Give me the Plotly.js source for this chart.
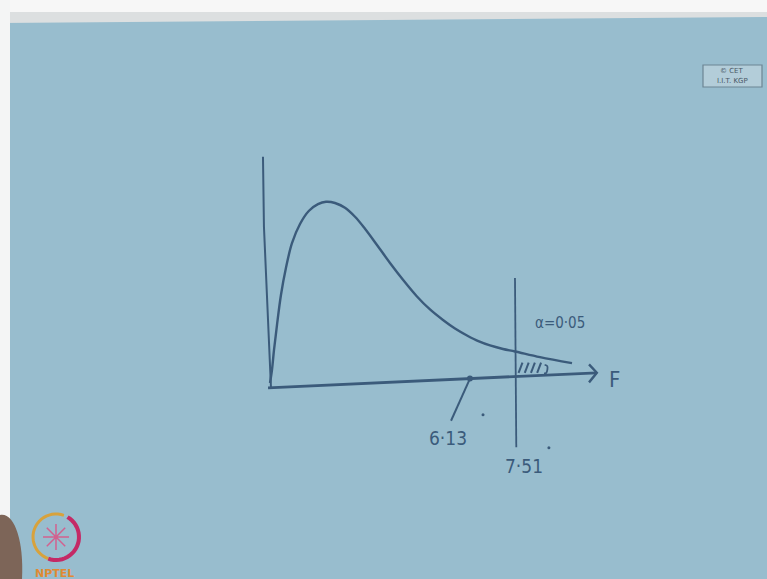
<!DOCTYPE html>
<html>
<head>
<meta charset="utf-8">
<script src="https://cdn.plot.ly/plotly-3.0.1.min.js"></script>
<style>
  html, body { margin: 0; padding: 0; background: #98bdce; }
  #chart { width: 767px; height: 579px; }
</style>
</head>
<body>
<div id="chart"></div>
<script>
// F density sketch: skewed curve, observed F and critical F with the alpha tail.
const curveF       = [0, 0.061, 0.123, 0.215, 0.337, 0.490, 0.674, 0.920, 1.196, 1.471, 1.717, 1.993, 2.299, 2.606, 2.912, 3.280, 3.679, 4.077, 4.506, 4.905, 5.303, 5.671, 6.039, 6.407, 6.744, 7.143, 7.511, 8.277, 9.258];
const curveDensity = [0.000, 0.022, 0.055, 0.097, 0.147, 0.192, 0.233, 0.265, 0.287, 0.298, 0.302, 0.300, 0.292, 0.277, 0.257, 0.230, 0.200, 0.172, 0.1442, 0.1225, 0.105, 0.0908, 0.0792, 0.0692, 0.0625, 0.0567, 0.0525, 0.043, 0.033];

const observedF = 6.13;
const criticalF = 7.51;
const alpha = 0.05;

// hand-drawn axes (slightly tilted)
const yAxisF = [-0.215, -0.185, 0.03];
const yAxisD = [0.377, 0.260, -0.008];
const xAxisF = [-0.06, 10.02];
const xAxisD = [-0.008, 0.017];
const arrowF = [9.78, 10.02, 9.78];
const arrowD = [0.031, 0.017, 0.001];

// hatch strokes in the rejection tail
const hatchF = [7.62, 7.81, 8.00, 8.19];

// stray chalk dots
const dotF = [6.53, 8.55];
const dotD = [-0.053, -0.108];

const ink = '#3b5b7b';
const fmt = v => v.toFixed(2).replace('.', '·');

// baseline height at a given F along the tilted axis
function axisAt(f) {
  return xAxisD[0] + (f - xAxisF[0]) / (xAxisF[1] - xAxisF[0]) * (xAxisD[1] - xAxisD[0]);
}

const traces = [
  { x: yAxisF, y: yAxisD, mode: 'lines', line: { color: ink, width: 2 }, hoverinfo: 'skip' },
  { x: xAxisF, y: xAxisD, mode: 'lines', line: { color: ink, width: 2.8 }, hoverinfo: 'skip' },
  { x: arrowF, y: arrowD, mode: 'lines', line: { color: ink, width: 2.4 }, hoverinfo: 'skip' },
  { x: curveF, y: curveDensity, mode: 'lines', line: { color: ink, width: 2.4, shape: 'spline', smoothing: 1 }, hoverinfo: 'skip' },
  { x: [criticalF, criticalF + 0.04], y: [0.175, -0.107], mode: 'lines', line: { color: ink, width: 1.8 }, hoverinfo: 'skip' },
  { x: [observedF, observedF - 0.58], y: [axisAt(observedF), -0.063], mode: 'lines', line: { color: ink, width: 2 }, hoverinfo: 'skip' },
  { x: [observedF], y: [axisAt(observedF)], mode: 'markers', marker: { color: ink, size: 6 }, hoverinfo: 'skip' },
  { x: dotF, y: dotD, mode: 'markers', marker: { color: ink, size: 3 }, hoverinfo: 'skip' }
];
hatchF.forEach(f => {
  traces.push({ x: [f, f + 0.12], y: [0.017, 0.034], mode: 'lines', line: { color: ink, width: 2 }, hoverinfo: 'skip' });
});
traces.push({ x: [8.42, 8.50, 8.47, 8.40], y: [0.030, 0.028, 0.017, 0.016], mode: 'lines',
  line: { color: ink, width: 1.8, shape: 'spline' }, hoverinfo: 'skip' });

// pixel -> paper helpers for the frame decorations
const W = 767, H = 579;
const P = (x, y) => (x / W).toFixed(4) + ',' + (1 - y / H).toFixed(4);

function ringPath(cx, cy, r, a0, a1) {
  let d = '';
  const n = 24;
  for (let i = 0; i <= n; i++) {
    const a = (a0 + (a1 - a0) * i / n) * Math.PI / 180;
    d += (i === 0 ? 'M' : 'L') + P(cx + r * Math.cos(a), cy + r * Math.sin(a));
  }
  return d;
}
let spokes = '';
for (let k = 0; k < 8; k++) {
  const a = k * Math.PI / 4;
  spokes += 'M' + P(56, 537) + 'L' + P(56 + 13 * Math.cos(a), 537 + 13 * Math.sin(a));
}

const shapes = [
  { type: 'rect', xref: 'paper', yref: 'paper', x0: 0, x1: 1, y0: 1 - 12 / H, y1: 1, fillcolor: '#f7f7f7', line: { width: 0 } },
  { type: 'path', xref: 'paper', yref: 'paper', path: 'M' + P(0, 12) + 'L' + P(767, 12) + 'L' + P(767, 17) + 'L' + P(0, 23) + 'Z', fillcolor: '#dcdfe0', line: { width: 0 } },
  { type: 'rect', xref: 'paper', yref: 'paper', x0: 0, x1: 10 / W, y0: 0, y1: 1, fillcolor: '#f4f5f5', line: { width: 0 } },
  { type: 'rect', xref: 'paper', yref: 'paper', x0: 703 / W, x1: 762 / W, y0: 1 - 87 / H, y1: 1 - 65 / H, fillcolor: '#b3cdd9', line: { color: '#6d8593', width: 1.2 } },
  { type: 'path', xref: 'paper', yref: 'paper', path: 'M' + P(0, 515) + 'C' + P(14, 512) + ' ' + P(24, 540) + ' ' + P(22, 579) + 'L' + P(0, 579) + 'Z', fillcolor: '#7d6558', line: { width: 0 } },
  { type: 'path', xref: 'paper', yref: 'paper', path: ringPath(56, 537, 23, -60, 110), line: { color: '#c42a66', width: 4 } },
  { type: 'path', xref: 'paper', yref: 'paper', path: ringPath(56, 537, 23, 110, 290), line: { color: '#d8a23c', width: 3 } },
  { type: 'path', xref: 'paper', yref: 'paper', path: spokes, line: { color: '#d2618f', width: 1.5 } }
];

const hand = 'Liberation Sans Narrow, DejaVu Sans Condensed, sans-serif';
const annotations = [
  { x: observedF - 0.67, y: -0.092, xref: 'x', yref: 'y', text: fmt(observedF), showarrow: false, font: { family: hand, size: 19, color: ink } },
  { x: criticalF + 0.28, y: -0.138, xref: 'x', yref: 'y', text: fmt(criticalF), showarrow: false, font: { family: hand, size: 19, color: ink } },
  { x: 8.89, y: 0.100, xref: 'x', yref: 'y', text: 'α=' + fmt(alpha), showarrow: false, font: { family: hand, size: 15, color: ink } },
  { x: 10.55, y: 0.005, xref: 'x', yref: 'y', text: 'F', showarrow: false, font: { family: hand, size: 22, color: ink } },
  { x: 732 / W, y: 1 - 71 / H, xref: 'paper', yref: 'paper', xanchor: 'center', yanchor: 'middle', text: '© CET', showarrow: false, font: { family: 'DejaVu Sans', size: 7, color: '#485866' } },
  { x: 732 / W, y: 1 - 81 / H, xref: 'paper', yref: 'paper', xanchor: 'center', yanchor: 'middle', text: 'I.I.T. KGP', showarrow: false, font: { family: 'DejaVu Sans', size: 7, color: '#485866' } },
  { x: 54 / W, y: 1 - 573 / H, xref: 'paper', yref: 'paper', xanchor: 'center', yanchor: 'middle', text: '<b>NPTEL</b>', showarrow: false, font: { family: 'DejaVu Sans', size: 11, color: '#e08a32' } }
];

const layout = {
  width: W, height: H,
  margin: { l: 0, r: 0, t: 0, b: 0, pad: 0 },
  paper_bgcolor: '#98bdce',
  plot_bgcolor: '#98bdce',
  showlegend: false,
  xaxis: { range: [-8.277, 15.236], visible: false, fixedrange: true },
  yaxis: { range: [-0.3267, 0.6383], visible: false, fixedrange: true },
  shapes: shapes,
  annotations: annotations
};

Plotly.newPlot('chart', traces, layout, { displayModeBar: false, staticPlot: true });
</script>
</body>
</html>
